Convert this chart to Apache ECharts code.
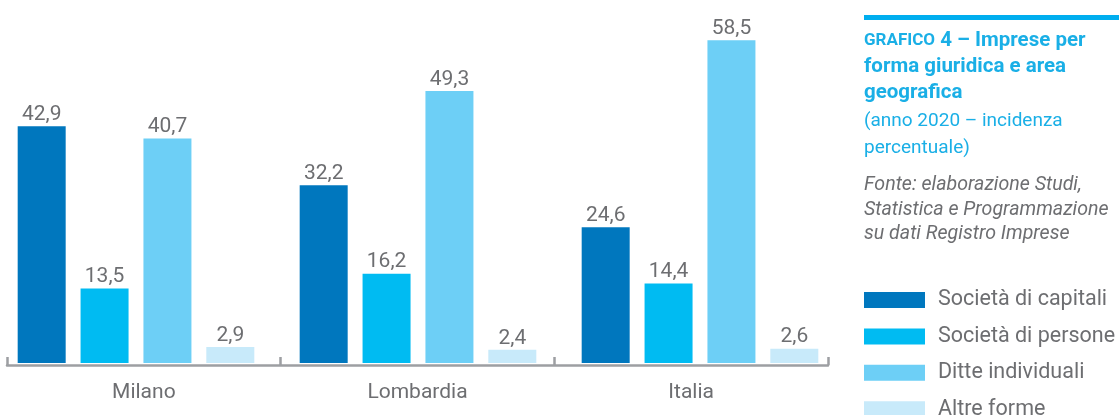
<!DOCTYPE html>
<html><head><meta charset="utf-8">
<script src="https://cdn.jsdelivr.net/npm/echarts@6/dist/echarts.min.js"></script>
<style>html,body{margin:0;padding:0;background:#fff}#c{width:1119px;height:415px}</style>
</head><body><div id="c"></div>
<script>
const categories = ['Milano', 'Lombardia', 'Italia'];
const seriesNames = ['Società di capitali', 'Società di persone', 'Ditte individuali', 'Altre forme'];
const capitali = [42.9, 32.2, 24.6];
const persone = [13.5, 16.2, 14.4];
const ditte = [40.7, 49.3, 58.5];
const altre = [2.9, 2.4, 2.6];
const colors = ['#0077be', '#00bbf2', '#6dcff6', '#c8eafa'];
const values = [capitali, persone, ditte, altre];

const FONT = 'Roboto';
const GRAY = '#6d6e71';
const BLUE = '#1aafe6';

const chart = echarts.init(document.getElementById('c'), null, {renderer: 'canvas'});
chart.setOption({
  animation: false,
  textStyle: {fontFamily: FONT},
  title: [
    {
      text: '{a|GRAFICO} 4 – Imprese per\nforma giuridica e area\ngeografica',
      left: 864, top: 28, padding: 0,
      textStyle: {
        fontFamily: FONT, fontSize: 20.5, fontWeight: 'bold', color: BLUE, lineHeight: 26,
        rich: {a: {fontFamily: FONT, fontSize: 17, fontWeight: 'bold', color: BLUE, lineHeight: 26}}
      }
    },
    {
      text: '(anno 2020 – incidenza\npercentuale)',
      left: 864, top: 108, padding: 0,
      textStyle: {fontFamily: FONT, fontSize: 19, fontWeight: 'normal', color: BLUE, lineHeight: 27}
    },
    {
      text: 'Fonte: elaborazione Studi,\nStatistica e Programmazione\nsu dati Registro Imprese',
      left: 864, top: 173, padding: 0,
      textStyle: {fontFamily: FONT, fontSize: 19.6, fontWeight: 'normal', fontStyle: 'italic', color: GRAY, lineHeight: 24.5}
    }
  ],
  graphic: [{type: 'rect', shape: {x: 864, y: 15, width: 255, height: 5}, style: {fill: '#00aeef'}}],
  legend: {
    orient: 'vertical', left: 864, top: 289, height: 250, padding: 0,
    itemWidth: 61, itemHeight: 16, itemGap: 14.4, icon: 'rect',
    data: seriesNames,
    textStyle: {fontFamily: FONT, fontSize: 21.5, color: GRAY, lineHeight: 16, padding: [0, 0, 0, 8]}
  },
  grid: [
    {left: -5, width: 846, top: 32, bottom: 52, outerBoundsMode: 'none', containLabel: false},
    {left: 7, width: 821, top: 32, bottom: 50, outerBoundsMode: 'none', containLabel: false}
  ],
  xAxis: [
    {type: 'category', gridIndex: 0, data: categories, axisLine: {show: false}, axisTick: {show: false}, axisLabel: {show: false}},
    {type: 'category', gridIndex: 1, data: categories, boundaryGap: true,
      axisLine: {show: true, lineStyle: {color: '#9d9fa2', width: 2.5}},
      axisTick: {show: true, interval: 0, inside: true, length: 8, lineStyle: {color: '#9d9fa2', width: 2.5}},
      axisLabel: {fontFamily: FONT, fontSize: 21, color: GRAY, margin: 17}}
  ],
  yAxis: [
    {type: 'value', gridIndex: 0, min: 0, max: 60, show: false, splitLine: {show: false}},
    {type: 'value', gridIndex: 1, min: 0, max: 60, show: false, splitLine: {show: false}}
  ],
  series: seriesNames.map((name, i) => ({
    name, type: 'bar', xAxisIndex: 0, yAxisIndex: 0,
    data: values[i], barWidth: 48, barGap: '31%',
    itemStyle: {color: colors[i]},
    label: {show: true, position: 'top', distance: 1, fontFamily: FONT, fontSize: 21, color: GRAY,
      formatter: p => String(p.value).replace('.', ',')}
  }))
});
</script></body></html>
